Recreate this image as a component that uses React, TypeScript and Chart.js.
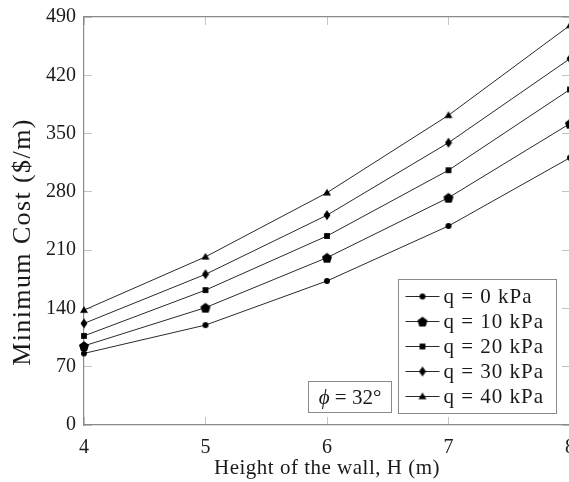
import React, { useEffect, useRef } from "react";
import { Chart, registerables } from "chart.js";

Chart.register(...registerables);

// ---- data ----
const heights = [4, 5, 6, 7, 8];
const cost_q0 = [86, 120, 173, 239, 321];
const cost_q10 = [95, 141, 201, 273, 362];
const cost_q20 = [107, 162, 227, 306, 403];
const cost_q30 = [122, 181, 252, 339, 440];
const cost_q40 = [138, 202, 279, 372, 480];
const seriesLabels = ["q = 0 kPa", "q = 10 kPa", "q = 20 kPa", "q = 30 kPa", "q = 40 kPa"];
const yMin = 0;
const yMax = 490;
const yStep = 70;
const xMin = 4;
const xMax = 8;
const xStep = 1;
const xTitle = "Height of the wall, H (m)";
const yTitle = "Minimum Cost ($/m)";
const phiSymbol = "\u03D5";
const phiRest = " = 32\u00B0";

const FONT = "'Liberation Serif', 'Times New Roman', serif";
const TEXT = "#1a1a1a";
const LINE = "#2a2a2a";
const FRAME = "#8a8a8a";
const TICK = "#c4c4c4";

type Marker = HTMLCanvasElement;

function mk(w: number, h: number, draw: (c: CanvasRenderingContext2D, w: number, h: number) => void): Marker {
  const c = document.createElement("canvas");
  c.width = w;
  c.height = h;
  const ctx = c.getContext("2d")!;
  ctx.fillStyle = "#000";
  draw(ctx, w, h);
  return c;
}

function makeMarkers(): Marker[] {
  const circle = mk(8, 8, (c, w, h) => {
    c.beginPath();
    c.arc(w / 2, h / 2, 3, 0, Math.PI * 2);
    c.fill();
  });
  const pentagon = mk(12, 12, (c, w, h) => {
    const r = 5.3;
    c.beginPath();
    for (let i = 0; i < 5; i++) {
      const a = -Math.PI / 2 + (i * 2 * Math.PI) / 5;
      const px = w / 2 + r * Math.cos(a);
      const py = h / 2 + 0.6 + r * Math.sin(a);
      if (i === 0) c.moveTo(px, py);
      else c.lineTo(px, py);
    }
    c.closePath();
    c.fill();
  });
  const square = mk(8, 8, (c, w, h) => {
    c.fillRect(w / 2 - 2.9, h / 2 - 2.9, 5.8, 5.8);
  });
  const diamond = mk(8, 12, (c, w, h) => {
    c.beginPath();
    c.moveTo(w / 2, h / 2 - 5);
    c.lineTo(w / 2 + 3.5, h / 2);
    c.lineTo(w / 2, h / 2 + 5);
    c.lineTo(w / 2 - 3.5, h / 2);
    c.closePath();
    c.fill();
  });
  const triangle = mk(10, 10, (c, w, h) => {
    c.beginPath();
    c.moveTo(w / 2, h / 2 - 4);
    c.lineTo(w / 2 + 4, h / 2 + 2.8);
    c.lineTo(w / 2 - 4, h / 2 + 2.8);
    c.closePath();
    c.fill();
  });
  return [circle, pentagon, square, diamond, triangle];
}

export default function App() {
  const ref = useRef<HTMLCanvasElement>(null);

  useEffect(() => {
    const canvas = ref.current!;
    const markers = makeMarkers();
    const series = [cost_q0, cost_q10, cost_q20, cost_q30, cost_q40];

    const datasets = series.map((vals, i) => ({
      label: seriesLabels[i],
      data: heights.map((h, j) => ({ x: h, y: vals[j] })),
      borderColor: LINE,
      borderWidth: 1,
      backgroundColor: "#000",
      pointStyle: markers[i] as any,
      pointRadius: 4,
      pointHoverRadius: 4,
      tension: 0,
      clip: false as any,
      fill: false,
    }));

    const overlay = {
      id: "overlay",
      afterDraw(chart: any) {
        const { ctx, chartArea } = chart;
        // y-axis title
        ctx.save();
        ctx.fillStyle = TEXT;
        ctx.font = `26px ${FONT}`;
        (ctx as any).letterSpacing = "1.4px";
        ctx.translate(15, (chartArea.top + chartArea.bottom) / 2 + 21);
        ctx.rotate(-Math.PI / 2);
        ctx.textAlign = "center";
        ctx.textBaseline = "middle";
        ctx.fillText(yTitle, 0, 0);
        ctx.restore();

        // x-axis title
        ctx.save();
        ctx.fillStyle = TEXT;
        ctx.font = `21px ${FONT}`;
        (ctx as any).letterSpacing = "0.5px";
        ctx.textAlign = "center";
        ctx.textBaseline = "middle";
        ctx.fillText(xTitle, (chartArea.left + chartArea.right) / 2, chartArea.bottom + 43);
        ctx.restore();

        // phi annotation box
        ctx.save();
        const bx = chartArea.left + 224.5;
        const by = chartArea.bottom - 43.5;
        const bw = 83;
        const bh = 31;
        ctx.fillStyle = "#fff";
        ctx.fillRect(bx, by, bw, bh);
        ctx.strokeStyle = FRAME;
        ctx.lineWidth = 1;
        ctx.strokeRect(bx, by, bw, bh);
        ctx.fillStyle = TEXT;
        ctx.textBaseline = "middle";
        ctx.textAlign = "left";
        ctx.font = `italic 21px ${FONT}`;
        const w1 = ctx.measureText(phiSymbol).width;
        ctx.font = `21px ${FONT}`;
        const w2 = ctx.measureText(phiRest).width;
        const sx = bx + bw / 2 - (w1 + w2) / 2;
        const sy = by + bh / 2 + 1;
        ctx.font = `italic 21px ${FONT}`;
        ctx.fillText(phiSymbol, sx, sy);
        ctx.font = `21px ${FONT}`;
        ctx.fillText(phiRest, sx + w1, sy);
        ctx.restore();

        // legend
        ctx.save();
        const lx = chartArea.right - 171.5;
        const ly = chartArea.bottom - 145.5;
        const lw = 158;
        const lh = 134;
        ctx.fillStyle = "#fff";
        ctx.fillRect(lx, ly, lw, lh);
        ctx.strokeStyle = FRAME;
        ctx.lineWidth = 1;
        ctx.strokeRect(lx, ly, lw, lh);
        chart.data.datasets.forEach((ds: any, i: number) => {
          const cy = ly + 17 + i * 25;
          ctx.strokeStyle = LINE;
          ctx.lineWidth = 1;
          ctx.beginPath();
          ctx.moveTo(lx + 7, cy);
          ctx.lineTo(lx + 41, cy);
          ctx.stroke();
          const m = ds.pointStyle as HTMLCanvasElement;
          ctx.drawImage(m, lx + 24 - m.width / 2, cy - m.height / 2);
          ctx.fillStyle = TEXT;
          ctx.font = `21px ${FONT}`;
          (ctx as any).letterSpacing = "1px";
          ctx.textAlign = "left";
          ctx.textBaseline = "middle";
          ctx.fillText(ds.label, lx + 45, cy + 1);
        });
        ctx.restore();
      },
    };

    const tickFont = { family: FONT, size: 20 };
    const gridOpts = {
      drawOnChartArea: false,
      drawTicks: true,
      tickLength: -8,
      color: TICK,
      lineWidth: 1,
    };
    const borderOpts = { color: FRAME, width: 1.2 };

    const chart = new Chart(canvas, {
      type: "line",
      data: { datasets: datasets as any },
      options: {
        animation: false,
        responsive: false,
        maintainAspectRatio: false,
        devicePixelRatio: 1,
        layout: { padding: { left: 0, top: 9, right: 38, bottom: 0 } },
        plugins: { legend: { display: false }, tooltip: { enabled: false } },
        events: [],
        scales: {
          x: {
            type: "linear",
            position: "bottom",
            min: xMin,
            max: xMax,
            ticks: { stepSize: xStep, padding: 19, font: tickFont, color: TEXT, autoSkip: false, maxRotation: 0 },
            grid: gridOpts,
            border: borderOpts,
            afterFit: (s: any) => {
              s.height = 57;
              s.paddingLeft = 0;
              s.paddingRight = 0;
            },
          },
          xTop: {
            type: "linear",
            position: "top",
            min: xMin,
            max: xMax,
            ticks: { stepSize: xStep, display: false },
            grid: gridOpts,
            border: borderOpts,
            afterFit: (s: any) => {
              s.height = 0;
              s.paddingLeft = 0;
              s.paddingRight = 0;
            },
          },
          y: {
            type: "linear",
            position: "left",
            min: yMin,
            max: yMax,
            ticks: { stepSize: yStep, padding: 16, font: tickFont, color: TEXT },
            grid: gridOpts,
            border: borderOpts,
            afterFit: (s: any) => {
              s.width = 76;
              s.paddingTop = 0;
              s.paddingBottom = 0;
            },
          },
          yRight: {
            type: "linear",
            position: "right",
            min: yMin,
            max: yMax,
            ticks: { stepSize: yStep, display: false },
            grid: gridOpts,
            border: borderOpts,
            afterFit: (s: any) => {
              s.width = 0;
              s.paddingTop = 0;
              s.paddingBottom = 0;
            },
          },
        },
      } as any,
      plugins: [overlay],
    });

    return () => chart.destroy();
  }, []);

  return (
    <div style={{ height: 466 }}>
      <div style={{ position: "fixed", left: 8, top: 8, width: 561, height: 474, overflow: "hidden" }}>
        <canvas ref={ref} width={600} height={474} style={{ display: "block", width: 600, height: 474 }} />
      </div>
    </div>
  );
}
